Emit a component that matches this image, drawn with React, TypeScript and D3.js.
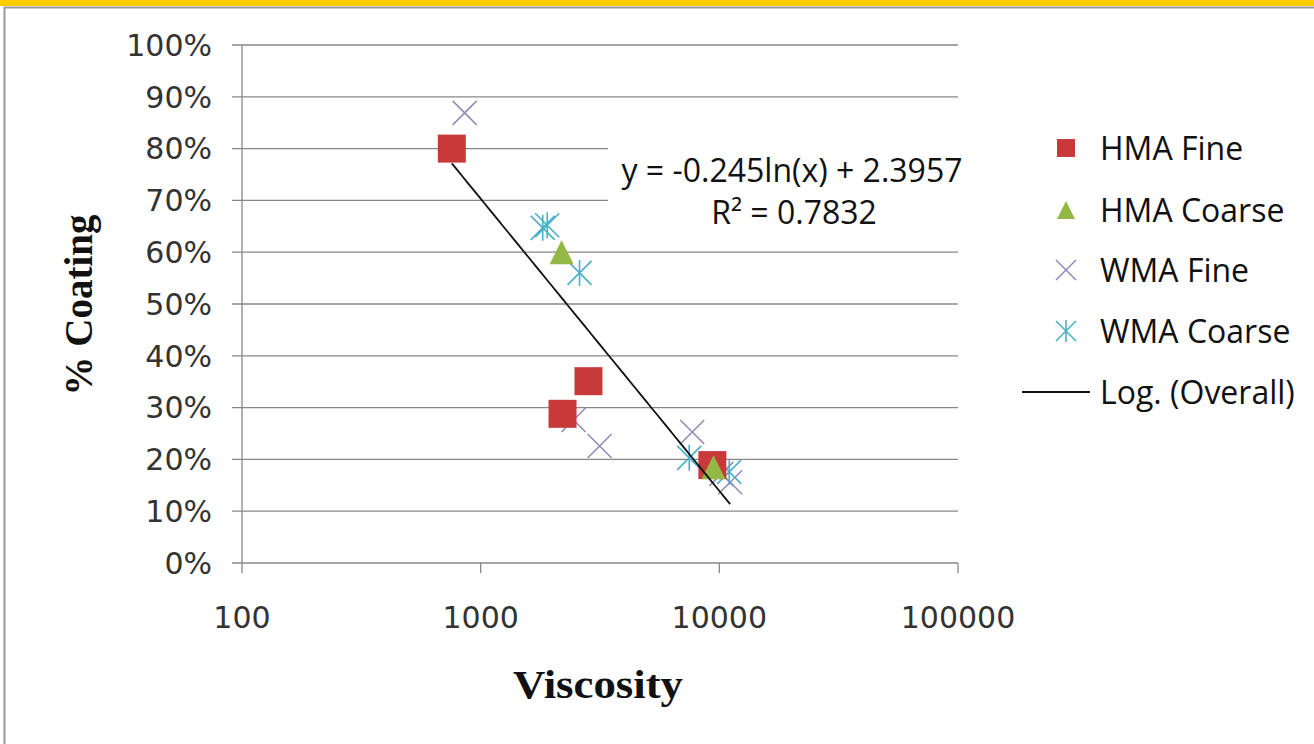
import React from "react";
import * as d3 from "d3";

const hmaFine = [
  { x: 757, y: 0.80 },
  { x: 2203, y: 0.288 },
  { x: 2830, y: 0.351 },
  { x: 9350, y: 0.189 },
];
const hmaCoarse = [
  { x: 2183, y: 0.60 },
  { x: 9450, y: 0.185 },
];
const wmaFine = [
  { x: 857, y: 0.869 },
  { x: 2450, y: 0.276 },
  { x: 3150, y: 0.226 },
  { x: 7700, y: 0.253 },
  { x: 10200, y: 0.172 },
  { x: 11100, y: 0.156 },
];
const wmaCoarse = [
  { x: 1820, y: 0.647 },
  { x: 1900, y: 0.652 },
  { x: 2596, y: 0.56 },
  { x: 7480, y: 0.203 },
  { x: 11000, y: 0.176 },
];
const trendA = -0.245;
const trendB = 2.3957;
const yTicks = [0, 0.1, 0.2, 0.3, 0.4, 0.5, 0.6, 0.7, 0.8, 0.9, 1.0];
const xTicks = [100, 1000, 10000, 100000];
const legendItems = ["HMA Fine", "HMA Coarse", "WMA Fine", "WMA Coarse", "Log. (Overall)"];

const RED = "#c83a3a";
const GREEN = "#93b845";
const PURPLE = "#9088b8";
const CYAN = "#4bb0c8";

export default function App() {
  const W = 1314, H = 744;
  const x = d3.scaleLog().domain([100, 100000]).range([242, 958]);
  const y = d3.scaleLinear().domain([0, 1]).range([563, 45]);
  const all = [...hmaFine, ...hmaCoarse, ...wmaFine, ...wmaCoarse];
  const [xmin, xmax] = d3.extent(all, (d) => d.x) as [number, number];
  const trendPts = d3.range(0, 51).map((i) => {
    const v = Math.exp(Math.log(xmin) + (Math.log(xmax) - Math.log(xmin)) * (i / 50));
    return [v, trendA * Math.log(v) + trendB] as [number, number];
  });
  const line = d3.line<[number, number]>().x((d) => x(d[0])).y((d) => y(d[1]));
  const tickFont = "'DejaVu Sans', Verdana, sans-serif";
  const legFont = "'Open Sans', 'Noto Sans', sans-serif";
  const serif = "'Liberation Serif', 'Times New Roman', serif";

  const square = (cx: number, cy: number, k: string, s = 28) => (
    <rect key={k} x={cx - s / 2} y={cy - s / 2} width={s} height={s} fill={RED} />
  );
  const tri = (cx: number, cy: number, k: string, s = 24) => (
    <path key={k} d={`M${cx},${cy - s / 2}L${cx + s / 2},${cy + s / 2}L${cx - s / 2},${cy + s / 2}Z`} fill={GREEN} />
  );
  const cross = (cx: number, cy: number, k: string, s = 12) => (
    <path key={k} d={`M${cx - s},${cy - s}L${cx + s},${cy + s}M${cx - s},${cy + s}L${cx + s},${cy - s}`} stroke={PURPLE} strokeWidth={1.5} fill="none" />
  );
  const star = (cx: number, cy: number, k: string, s = 12) => (
    <path key={k} d={`M${cx - s},${cy - s}L${cx + s},${cy + s}M${cx - s},${cy + s}L${cx + s},${cy - s}M${cx},${cy - s - 1}L${cx},${cy + s + 1}`} stroke={CYAN} strokeWidth={1.6} fill="none" />
  );

  const legY = [148, 210, 270, 331, 392];

  return (
    <svg width={W} height={H} style={{ position: "absolute", left: 0, top: 0, background: "#fff" }}>
      <rect x={0} y={0} width={W} height={6} fill="#ffcc00" />
      <path d={`M4.5,${H}V7.5H${W}`} stroke="#999" strokeWidth={2} fill="none" />
      {/* gridlines */}
      {yTicks.map((t) => (
        <line key={"g" + t} x1={232} x2={958} y1={y(t)} y2={y(t)} stroke="#888" strokeWidth={1.3} />
      ))}
      {/* label background */}
      <rect x={608} y={140} width={372} height={92} fill="#fff" />
      <line x1={242} x2={242} y1={y(1)} y2={y(0)} stroke="#888" strokeWidth={1.3} />
      {xTicks.map((t) => (
        <line key={"xt" + t} x1={x(t)} x2={x(t)} y1={y(0)} y2={y(0) + 10} stroke="#888" strokeWidth={1.3} />
      ))}
      {yTicks.map((t) => (
        <text key={"yl" + t} x={212} y={y(t)} dy="0.36em" textAnchor="end" fontFamily={tickFont} fontSize={30} fill="#333">
          {Math.round(t * 100) + "%"}
        </text>
      ))}
      {xTicks.map((t) => (
        <text key={"xl" + t} x={x(t)} y={617} dy="0.36em" textAnchor="middle" fontFamily={tickFont} fontSize={30} fill="#333">
          {t}
        </text>
      ))}
      <text transform="translate(92,305) rotate(-90)" textAnchor="middle" fontFamily={serif} fontWeight="bold" fontSize={39} fill="#111">
        % Coating
      </text>
      <text transform="translate(598,698) scale(1.12,1)" textAnchor="middle" fontFamily={serif} fontWeight="bold" fontSize={40} fill="#111">
        Viscosity
      </text>
      {/* markers */}
      {wmaFine.map((d, i) => cross(x(d.x), y(d.y), "wf" + i))}
      {wmaCoarse.map((d, i) => star(x(d.x), y(d.y), "wc" + i))}
      {hmaFine.map((d, i) => square(x(d.x), y(d.y), "hf" + i))}
      {hmaCoarse.map((d, i) => tri(x(d.x), y(d.y), "hc" + i))}
      <path d={line(trendPts) || ""} stroke="#111" strokeWidth={1.8} fill="none" />
      {/* equation */}
      <text x={792} y={170} dy="0.36em" textAnchor="middle" fontFamily={legFont} fontSize={32} fill="#111">
        y = -0.245ln(x) + 2.3957
      </text>
      <text x={794} y={212} dy="0.36em" textAnchor="middle" fontFamily={legFont} fontSize={32} fill="#111">
        R² = 0.7832
      </text>
      {/* legend */}
      {square(1066, legY[0], "l0", 18)}
      {tri(1066, legY[1], "l1", 18)}
      {cross(1066, legY[2], "l2", 10)}
      {star(1066, legY[3], "l3", 10)}
      <line x1={1022} x2={1090} y1={legY[4]} y2={legY[4]} stroke="#111" strokeWidth={1.8} />
      {legendItems.map((s, i) => (
        <text key={s} x={1100} y={legY[i]} dy="0.36em" fontFamily={legFont} fontSize={32} fill="#111">
          {s}
        </text>
      ))}
    </svg>
  );
}
